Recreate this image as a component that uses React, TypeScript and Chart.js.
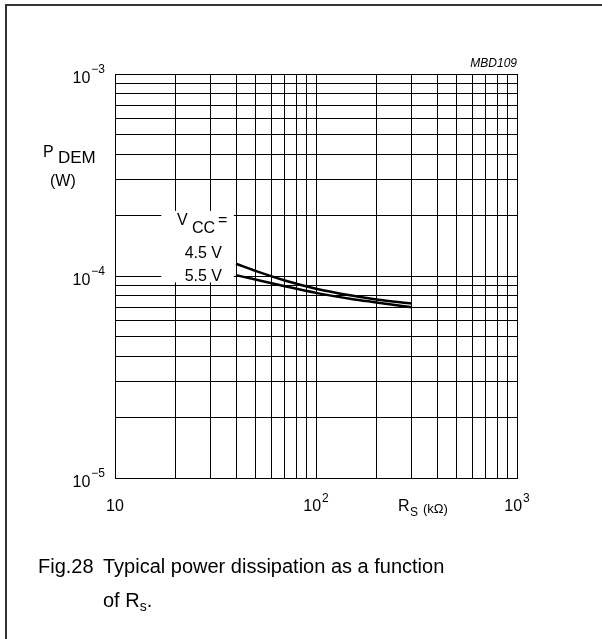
import React, { useEffect, useRef } from "react";
import { Chart, registerables } from "chart.js";

Chart.register(...registerables);

// ---- data ----
const rsValues = [40, 50, 70, 100, 150, 200, 300];
const pdem45 = [1.15e-4, 1.06e-4, 9.5e-5, 8.65e-5, 8.0e-5, 7.65e-5, 7.3e-5];
const pdem55 = [1.01e-4, 9.6e-5, 8.9e-5, 8.25e-5, 7.7e-5, 7.4e-5, 7.0e-5];
const seriesNames = ["4.5 V", "5.5 V"];

const xGrid = [10, 20, 30, 40, 50, 60, 70, 80, 90, 100, 200, 300, 400, 500, 600, 700, 800, 900, 1000];
const yGrid = [
  1e-5, 2e-5, 3e-5, 4e-5, 5e-5, 6e-5, 7e-5, 8e-5, 9e-5,
  1e-4, 2e-4, 3e-4, 4e-4, 5e-4, 6e-4, 7e-4, 8e-4, 9e-4, 1e-3,
];
const xTickValues = [10, 100, 1000];
const xTickExps = ["", "2", "3"];
const yTickValues = [1e-3, 1e-4, 1e-5];
const yTickExps = ["\u22123", "\u22124", "\u22125"];

const FONT = "'Liberation Sans', Arial, Helvetica, sans-serif";

function drawPow(ctx: CanvasRenderingContext2D, base: string, exp: string, x: number, baseY: number, expY: number, align: "right" | "center") {
  ctx.font = `16px ${FONT}`;
  const wb = ctx.measureText(base).width;
  ctx.font = `12px ${FONT}`;
  const we = exp ? ctx.measureText(exp).width + 1 : 0;
  const total = wb + we;
  const sx = align === "right" ? x - total : x - total / 2;
  ctx.textAlign = "left";
  ctx.textBaseline = "alphabetic";
  ctx.font = `16px ${FONT}`;
  ctx.fillText(base, sx, baseY);
  if (exp) {
    ctx.font = `12px ${FONT}`;
    ctx.fillText(exp, sx + wb + 1, expY);
  }
}

const decorPlugin = {
  id: "decor",
  beforeDatasetsDraw(chart: any) {
    const ctx = chart.ctx as CanvasRenderingContext2D;
    const x = chart.scales.x;
    const y = chart.scales.y;
    // white label background covering grid lines
    const x0 = x.getPixelForValue(17);
    const x1 = x.getPixelForValue(39);
    const y0 = y.getPixelForValue(2.1e-4);
    const y1 = y.getPixelForValue(9.3e-5);
    ctx.save();
    ctx.fillStyle = "#fff";
    ctx.fillRect(x0, y0, x1 - x0, y1 - y0);
    ctx.restore();
  },
  afterDraw(chart: any) {
    const ctx = chart.ctx as CanvasRenderingContext2D;
    const area = chart.chartArea;
    const x = chart.scales.x;
    const y = chart.scales.y;
    ctx.save();
    ctx.fillStyle = "#000";

    // frame
    ctx.strokeStyle = "#333";
    ctx.lineWidth = 2;
    ctx.beginPath();
    ctx.moveTo(6, 639);
    ctx.lineTo(6, 5);
    ctx.lineTo(602, 5);
    ctx.stroke();

    // y tick labels
    yTickValues.forEach((v, i) => {
      const py = y.getPixelForValue(v);
      drawPow(ctx, "10", yTickExps[i], area.left - 10, py + 9, py - 1, "right");
    });
    // x tick labels
    xTickValues.forEach((v, i) => {
      const px = x.getPixelForValue(v);
      drawPow(ctx, "10", xTickExps[i], px, area.bottom + 33, area.bottom + 24, "center");
    });

    ctx.textAlign = "left";
    ctx.textBaseline = "alphabetic";
    // y axis title
    ctx.font = `16px ${FONT}`;
    ctx.fillText("P", 43, 157);
    ctx.font = `17px ${FONT}`;
    ctx.fillText("DEM", 58, 163);
    ctx.font = `16px ${FONT}`;
    ctx.fillText("(W)", 50, 186);

    // x axis title
    ctx.font = `16px ${FONT}`;
    ctx.fillText("R", 398, area.bottom + 33);
    ctx.font = `12px ${FONT}`;
    ctx.fillText("S", 410, area.bottom + 38);
    ctx.font = `13px ${FONT}`;
    ctx.fillText("(k\u03A9)", 423, area.bottom + 35);

    // MBD109
    ctx.font = `italic 12px ${FONT}`;
    ctx.textAlign = "right";
    ctx.fillText("MBD109", area.right, area.top - 7);

    // series labels
    ctx.textAlign = "left";
    ctx.font = `16px ${FONT}`;
    ctx.fillText("V", 177, 225);
    ctx.fillText("CC", 192, 233);
    ctx.fillText("=", 218, 225);
    ctx.textAlign = "right";
    ctx.fillText(seriesNames[0], 222, 258);
    ctx.fillText(seriesNames[1], 222, 281);

    // caption
    ctx.textAlign = "left";
    ctx.font = `20px ${FONT}`;
    ctx.fillText("Fig.28", 38, 573);
    ctx.fillText("Typical power dissipation as a function", 103, 573);
    ctx.fillText("of R", 103, 607);
    const w = ctx.measureText("of R").width;
    ctx.font = `14px ${FONT}`;
    ctx.fillText("s", 103 + w, 611);
    const ws = ctx.measureText("s").width;
    ctx.font = `20px ${FONT}`;
    ctx.fillText(".", 103 + w + ws, 607);

    ctx.restore();
  },
};

export default function App() {
  const ref = useRef<HTMLCanvasElement | null>(null);
  useEffect(() => {
    if (!ref.current) return;
    const chart = new Chart(ref.current, {
      type: "line",
      data: {
        datasets: [
          {
            label: seriesNames[0],
            data: rsValues.map((r, i) => ({ x: r, y: pdem45[i] })),
            borderColor: "#000",
            borderWidth: 2.5,
            pointRadius: 0,
            cubicInterpolationMode: "monotone",
            fill: false,
          },
          {
            label: seriesNames[1],
            data: rsValues.map((r, i) => ({ x: r, y: pdem55[i] })),
            borderColor: "#000",
            borderWidth: 2.5,
            pointRadius: 0,
            cubicInterpolationMode: "monotone",
            fill: false,
          },
        ],
      },
      options: {
        responsive: false,
        animation: false,
        layout: { padding: { left: 115, right: 85, top: 74, bottom: 161 } },
        plugins: { legend: { display: false }, tooltip: { enabled: false } },
        scales: {
          x: {
            type: "logarithmic",
            min: 10,
            max: 1000,
            afterBuildTicks: (s: any) => {
              s.ticks = xGrid.map((v) => ({ value: v }));
            },
            ticks: { display: false },
            grid: { color: "#000", lineWidth: 1, drawTicks: false },
            border: { display: true, color: "#000", width: 1 },
          },
          y: {
            type: "logarithmic",
            min: 1e-5,
            max: 1e-3,
            afterBuildTicks: (s: any) => {
              s.ticks = yGrid.map((v) => ({ value: v }));
            },
            ticks: { display: false },
            grid: { color: "#000", lineWidth: 1, drawTicks: false },
            border: { display: true, color: "#000", width: 1 },
          },
        },
      },
      plugins: [decorPlugin],
    } as any);
    return () => chart.destroy();
  }, []);
  return (
    <div style={{ position: "absolute", left: 0, top: 0, width: 602, height: 639, background: "#fff" }}>
      <canvas ref={ref} width={602} height={639} style={{ display: "block" }} />
    </div>
  );
}
